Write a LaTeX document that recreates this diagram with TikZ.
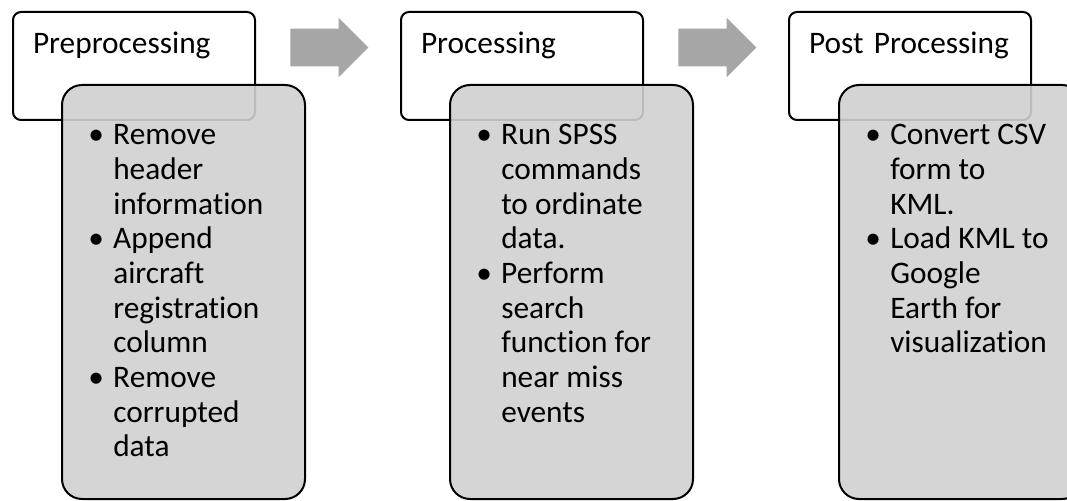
\documentclass[tikz,border=0pt]{standalone}
\usepackage{fontspec}
\setmainfont{Carlito}[Ligatures=NoCommon]
\usetikzlibrary{shapes.arrows}
\definecolor{boxgray}{RGB}{208,208,208}
\definecolor{arrowgray}{RGB}{166,166,166}
\newcommand{\blt}{\makebox[18.75pt][l]{\textbullet}}
\newcommand{\ind}{\hspace*{18.75pt}}

\begin{document}
\begin{tikzpicture}[x=0.75pt,y=0.75pt,
		header/.style={draw, line width=1.5pt, rounded corners=6pt, fill=white,
			inner xsep=15pt, inner ysep=0pt, text width=151.5pt, align=left,
			text height=31.5pt, text depth=49.5pt},
		stepbox/.style={draw, line width=1.5pt, rounded corners=15pt, fill=boxgray,
			fill opacity=0.9, minimum width=182.25pt, minimum height=310.5pt, inner sep=0pt},
		bullets/.style={inner sep=0pt, anchor=base west},
		flowarrow/.style={single arrow, fill=arrowgray, draw=none, inner xsep=0pt,
			inner ysep=13.875pt, minimum height=58.5pt, single arrow head extend=8.25pt,
			single arrow tip angle=90, anchor=tail},
		font=\fontsize{23.5}{26}\selectfont]
			
			\useasboundingbox (0,0) rectangle (1067,500);
			\clip (0,0) rectangle (1067,500);
			
			% Etape 1 : Preprocessing
			\node[header, anchor=north west] (pre) at (12,489) {Preprocessing};
			\node[stepbox, anchor=north west] (prebox) at ([shift={(49,-73)}]pre.north west) {};
			\node[bullets] (prelist) at ([shift={(27,-61)}]prebox.north west) {%
				\begin{tabular}[t]{@{}l@{}}
					\blt Remove\\ \ind header\\ \ind information\\
					\blt Append\\ \ind aircraft\\ \ind registration\\ \ind column\\
					\blt Remove\\ \ind corrupted\\ \ind data
				\end{tabular}};
			
			% Fleche 1
			\node[flowarrow] (arr1) at (290,452.5) {};
			
			% Etape 2 : Processing
			\node[header, anchor=north west] (proc) at (400,489) {Processing};
			\node[stepbox, anchor=north west] (procbox) at ([shift={(49,-73)}]proc.north west) {};
			\node[bullets] (proclist) at ([shift={(27,-61)}]procbox.north west) {%
				\begin{tabular}[t]{@{}l@{}}
					\blt Run SPSS\\ \ind commands\\ \ind to ordinate\\ \ind data.\\
					\blt Perform\\ \ind search\\ \ind function for\\ \ind near miss\\ \ind events
				\end{tabular}};
			
			% Fleche 2
			\node[flowarrow] (arr2) at (678,452.5) {};
			
			% Etape 3 : Post Processing
			\node[header, anchor=north west] (post) at (788,489) {Post Processing};
			\node[stepbox, anchor=north west] (postbox) at ([shift={(50,-73)}]post.north west) {};
			\node[bullets] (postlist) at ([shift={(27,-61)}]postbox.north west) {%
				\begin{tabular}[t]{@{}l@{}}
					\blt Convert CSV\\ \ind form to\\ \ind KML.\\
					\blt Load KML to\\ \ind Google\\ \ind Earth for\\ \ind visualization
				\end{tabular}};
			
		\end{tikzpicture}
\end{document}
